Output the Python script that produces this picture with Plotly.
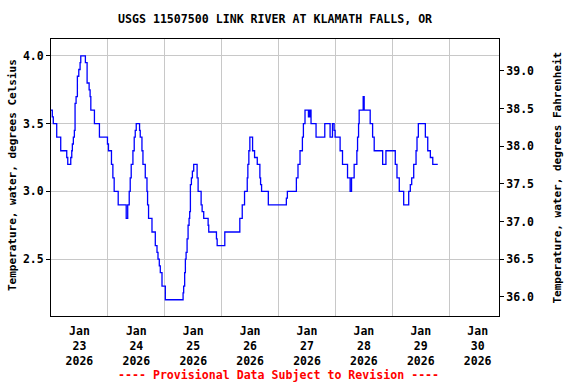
import pandas as pd
import plotly.graph_objects as go

# Hours after 2026-01-23 00:00 at which the reading changes, and the reading (deg C)
hours = [0, 0.55, 0.97, 2.41, 4.10, 6.64, 7.07, 8.33, 8.76, 9.01, 9.43, 9.86, 10.15, 10.58,
         11.13, 11.72, 12.27, 12.56, 14.51, 15.23, 16.08, 16.50, 16.80, 18.32, 20.43, 23.82,
         24.24, 25.51, 26.10, 26.65, 28.35, 31.73, 32.36, 33.0, 33.42, 33.84, 34.56, 35.11,
         35.54, 35.96, 37.36, 37.65, 38.37, 38.79, 39.77, 40.49, 40.74, 41.16, 42.60, 44.0,
         44.72, 45.14, 45.69, 46.11, 46.83, 48.23, 55.72, 55.97, 56.39, 56.69, 56.99, 57.41,
         57.83, 58.25, 58.51, 58.81, 59.23, 59.65, 60.20, 61.64, 62.06, 63.33, 63.76, 64.43,
         66.29, 66.55, 69.80, 70.10, 73.32, 79.66, 80.68, 81.65, 82.79, 83.05, 83.47, 83.89,
         85.04, 85.88, 87.02, 88.12, 88.42, 88.84, 91.68, 99.29, 99.72, 103.52, 104.20, 105.05,
         106.06, 106.48, 107.16, 108.60, 109.15, 109.70, 111.82, 115.50, 117.74, 118.75,
         119.43, 119.85, 121.97, 122.98, 125.10, 126.20, 126.79, 127.89, 129.03, 129.33,
         129.75, 130.01, 131.70, 132.12, 134.66, 135.68, 136.35, 139.91, 141.30, 145.24,
         145.96, 146.93, 148.79, 150.91, 151.58, 152.17, 153.02, 154.0, 154.41, 154.97,
         157.93, 158.94, 160.04, 161.06, 163.17]
temp_c = [3.6, 3.55, 3.5, 3.4, 3.3, 3.25, 3.2, 3.25, 3.3, 3.35, 3.4, 3.45, 3.65, 3.7,
          3.85, 3.9, 3.95, 4.0, 3.95, 3.8, 3.75, 3.7, 3.6, 3.5, 3.4, 3.35,
          3.3, 3.2, 3.1, 3.0, 2.9, 2.8, 2.9, 3.0, 3.1, 3.2, 3.3, 3.4,
          3.45, 3.5, 3.45, 3.4, 3.3, 3.2, 3.1, 3.0, 2.9, 2.8, 2.7, 2.6,
          2.55, 2.5, 2.45, 2.4, 2.3, 2.2, 2.25, 2.3, 2.4, 2.5, 2.55, 2.65,
          2.75, 2.8, 2.85, 3.05, 3.1, 3.15, 3.2, 3.1, 3.0, 2.9, 2.85, 2.8,
          2.75, 2.7, 2.65, 2.6, 2.7, 2.8, 2.9, 3.0, 3.1, 3.2, 3.3, 3.4,
          3.3, 3.25, 3.2, 3.1, 3.05, 3.0, 2.9, 2.95, 3.0, 3.1, 3.2, 3.3,
          3.4, 3.5, 3.6, 3.55, 3.6, 3.5, 3.4, 3.5, 3.4, 3.5,
          3.45, 3.4, 3.3, 3.2, 3.1, 3.0, 3.1, 3.2, 3.3, 3.4,
          3.5, 3.6, 3.7, 3.6, 3.5, 3.4, 3.3, 3.2, 3.3, 3.2,
          3.1, 3.0, 2.9, 3.0, 3.05, 3.1, 3.2, 3.3, 3.4, 3.5,
          3.4, 3.3, 3.25, 3.2, 3.2]

day_labels = ["Jan<br>23<br>2026", "Jan<br>24<br>2026", "Jan<br>25<br>2026", "Jan<br>26<br>2026",
              "Jan<br>27<br>2026", "Jan<br>28<br>2026", "Jan<br>29<br>2026", "Jan<br>30<br>2026"]
c_ticks = [2.5, 3.0, 3.5, 4.0]
f_ticks = [36.0, 36.5, 37.0, 37.5, 38.0, 38.5, 39.0]

start = pd.Timestamp("2026-01-23 00:00")
times = [start + pd.Timedelta(hours=h) for h in hours]
temp_f = [c * 1.8 + 32 for c in temp_c]

c_range = [2.08, 4.125]
f_range = [c * 1.8 + 32 for c in c_range]
x_range = [start, start + pd.Timedelta(hours=7 * 24 + 21)]
noon = [start + pd.Timedelta(hours=12 + 24 * i) for i in range(8)]
midnights = [start + pd.Timedelta(days=i) for i in range(1, 8)]

FONT = "DejaVu Sans Mono"
fig = go.Figure()
fig.add_trace(go.Scatter(x=times, y=temp_c, mode="lines", line=dict(color="#0000ff", width=1.3, shape="hv"),
                         showlegend=False))
fig.add_trace(go.Scatter(x=times, y=temp_f, mode="lines", yaxis="y2", line=dict(color="rgba(0,0,0,0)", width=0),
                         showlegend=False, hoverinfo="skip"))

fig.update_layout(
    width=576, height=384,
    margin=dict(l=51, r=77, t=39, b=68),
    paper_bgcolor="white", plot_bgcolor="white",
    font=dict(family=FONT, size=11, color="black", weight="bold"),
    xaxis=dict(range=x_range, tickmode="array", tickvals=noon, ticktext=day_labels,
               showgrid=False, ticks="", showline=True, linecolor="black", linewidth=1, mirror=True,
               zeroline=False, ticklabelstandoff=4, tickfont=dict(family=FONT, size=11.5, weight="bold"),
               minor=dict(tickmode="array", tickvals=midnights, showgrid=True, gridcolor="#c8c8c8",
                          gridwidth=1, ticks="")),
    yaxis=dict(range=c_range, tickmode="array", tickvals=c_ticks, ticktext=[f"{v:.1f}" for v in c_ticks],
               showgrid=True, gridcolor="#c8c8c8", gridwidth=1, ticks="outside", ticklen=4,
               tickcolor="black", showline=True, linecolor="black", linewidth=1, mirror=True,
               zeroline=False, tickfont=dict(family=FONT, size=11.5, weight="bold")),
    yaxis2=dict(range=f_range, overlaying="y", side="right", tickmode="array", tickvals=f_ticks,
                ticktext=[f"{v:.1f}" for v in f_ticks], showgrid=False, ticks="outside", ticklen=4,
                tickcolor="black", showline=True, linecolor="black", linewidth=1, zeroline=False,
                tickfont=dict(family=FONT, size=11.5, weight="bold")),
    annotations=[
        dict(text="USGS 11507500 LINK RIVER AT KLAMATH FALLS, OR", xref="paper", yref="paper",
             x=0.5, y=1 + (39 - 19) / 277, showarrow=False, xanchor="center", yanchor="middle",
             font=dict(family=FONT, size=11.6, weight="bold")),
        dict(text="---- Provisional Data Subject to Revision ----", xref="paper", yref="paper",
             x=(278 - 51) / 448, y=-(375 - 316) / 277, showarrow=False, xanchor="center", yanchor="middle",
             font=dict(family=FONT, size=11.6, color="red", weight="bold")),
        dict(text="Temperature, water, degrees Celsius", xref="paper", yref="paper",
             x=(12 - 51) / 448, y=0.5 + (177.5 - 175) / 277, textangle=-90, showarrow=False,
             xanchor="center", yanchor="middle", font=dict(family=FONT, size=11, weight="bold")),
        dict(text="Temperature, water, degrees Fahrenheit", xref="paper", yref="paper",
             x=(557 - 51) / 448, y=0.5, textangle=-90, showarrow=False,
             xanchor="center", yanchor="middle", font=dict(family=FONT, size=11, weight="bold")),
    ],
)

fig.write_html("out.html", config={"displayModeBar": False},
               post_script="document.body.style.margin='0';document.body.style.overflow='hidden';")
